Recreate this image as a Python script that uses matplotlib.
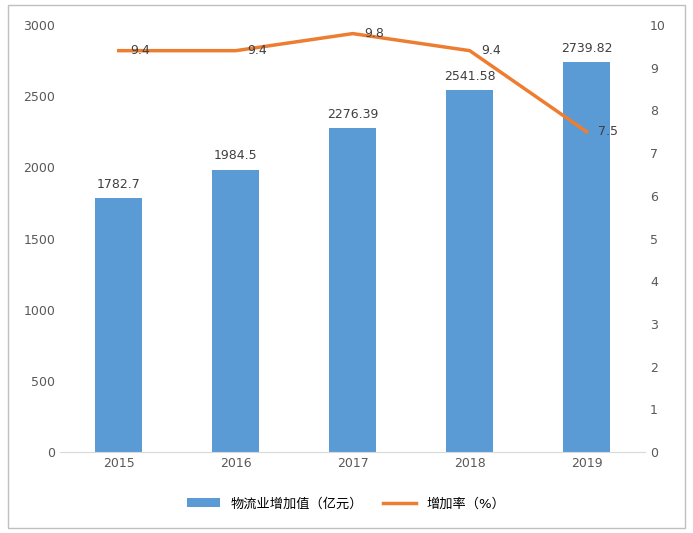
import matplotlib.pyplot as plt
from matplotlib.patches import Rectangle

plt.rcParams['font.family'] = ['DejaVu Sans', 'Noto Sans CJK SC']

years = ['2015', '2016', '2017', '2018', '2019']
value = [1782.7, 1984.5, 2276.39, 2541.58, 2739.82]
rate = [9.4, 9.4, 9.8, 9.4, 7.5]
value_labels = ['1782.7', '1984.5', '2276.39', '2541.58', '2739.82']

fig = plt.figure(figsize=(6.93, 5.33), dpi=100)
fig.patches.append(Rectangle((0.012, 0.01), 0.976, 0.98, transform=fig.transFigure,
                             fill=False, edgecolor='#bfbfbf', linewidth=1))
ax = fig.add_axes([0.087, 0.152, 0.844, 0.801])
x = range(len(years))
bars = ax.bar(x, value, width=0.4, color='#5B9BD5', label='物流业增加值（亿元）')
for i, v in enumerate(value):
    ax.text(i, v + 50, value_labels[i], ha='center', va='bottom', fontsize=9, color='#404040')
ax.set_ylim(0, 3000)
ax.set_yticks(range(0, 3001, 500))
ax.set_xlim(-0.5, 4.5)
ax.set_xticks(list(x))
ax.set_xticklabels(years)

ax2 = ax.twinx()
line, = ax2.plot(x, rate, color='#ED7D31', linewidth=2.5, label='增加率（%）')
for i, r in enumerate(rate):
    ax2.text(i + 0.1, r, str(r), ha='left', va='center', fontsize=9, color='#404040')
ax2.set_ylim(0, 10)
ax2.set_yticks(range(0, 11))

for a in (ax, ax2):
    for s in a.spines.values():
        s.set_visible(False)
    a.tick_params(length=0, labelsize=9, colors='#595959')
ax.spines['bottom'].set_visible(True)
ax.spines['bottom'].set_color('#d9d9d9')

fig.legend(handles=[bars, line], loc='lower center', bbox_to_anchor=(0.5, 0.02), ncol=2,
           frameon=False, fontsize=9.5, handlelength=2.5, columnspacing=1.5)
fig.savefig('out.png', dpi=100)
